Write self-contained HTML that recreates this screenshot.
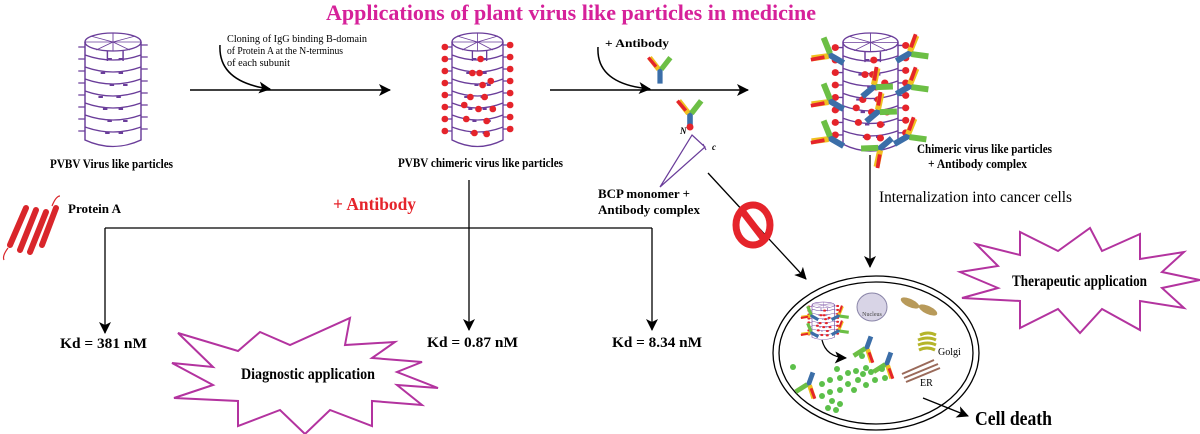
<!DOCTYPE html>
<html><head><meta charset="utf-8"><style>
html,body{margin:0;padding:0;background:#fff;width:1200px;height:434px;overflow:hidden}
svg text{font-family:"Liberation Serif",serif}
</style></head><body>
<svg width="1200" height="434" viewBox="0 0 1200 434" xmlns="http://www.w3.org/2000/svg">
<defs>
<marker id="ah" markerWidth="12" markerHeight="12" refX="11" refY="6" orient="auto" markerUnits="userSpaceOnUse">
<path d="M0,0 L12,6 L0,12 L3,6 Z" fill="#000"/></marker>
<g id="cyl" fill="none" stroke="#6a3d9a" stroke-width="1.3">
<ellipse cx="25" cy="9" rx="25" ry="9"/>
<path d="M0,9 V107 Q25,120 50,107 V9"/>
<path d="M25,9 L25,0 M25,9 L45,3 M25,9 L50,9 M25,9 L40,17 M25,9 L10,17 M25,9 L0,9 M25,9 L5,3 M25,9 L25,18" stroke-width="0.8"/>
<path d="M0,22 Q25,32 50,22 M0,34 Q25,44 50,34 M0,46 Q25,56 50,46 M0,58 Q25,68 50,58 M0,70 Q25,80 50,70 M0,82 Q25,92 50,82 M0,94 Q25,104 50,94"/>
<path d="M20,18 V28 M34,18 V28"/>
<path d="M-6,14 H0 M-6,26 H0 M-6,38 H0 M-6,50 H0 M-6,62 H0 M-6,74 H0 M-6,86 H0 M-6,98 H0 M50,12 H56 M50,24 H56 M50,36 H56 M50,48 H56 M50,60 H56 M50,72 H56 M50,84 H56 M50,96 H56"/>
<path d="M20,26 h4 M30,26 h4 M14,40 h4 M30,40 h4 M22,52 h4 M34,52 h4 M12,64 h4 M28,64 h4 M16,76 h4 M30,76 h4 M20,88 h4 M34,88 h4 M18,100 h4 M30,100 h4" stroke-width="2"/>
</g>
<g id="dots" fill="#e5242b">
<circle cx="-7" cy="14" r="3.3"/><circle cx="-7" cy="26" r="3.3"/><circle cx="-7" cy="38" r="3.3"/><circle cx="-7" cy="50" r="3.3"/><circle cx="-7" cy="62" r="3.3"/><circle cx="-7" cy="74" r="3.3"/><circle cx="-7" cy="86" r="3.3"/><circle cx="-7" cy="98" r="3.3"/>
<circle cx="57" cy="12" r="3.3"/><circle cx="57" cy="24" r="3.3"/><circle cx="57" cy="36" r="3.3"/><circle cx="57" cy="48" r="3.3"/><circle cx="57" cy="60" r="3.3"/><circle cx="57" cy="72" r="3.3"/><circle cx="57" cy="84" r="3.3"/><circle cx="57" cy="96" r="3.3"/>
<circle cx="28" cy="26" r="3.3"/><circle cx="20" cy="40" r="3.3"/><circle cx="27" cy="40" r="3.3"/><circle cx="30" cy="52" r="3.3"/><circle cx="38" cy="48" r="3.3"/><circle cx="18" cy="64" r="3.3"/><circle cx="32" cy="64" r="3.3"/><circle cx="12" cy="72" r="3.3"/><circle cx="26" cy="76" r="3.3"/><circle cx="40" cy="76" r="3.3"/><circle cx="14" cy="86" r="3.3"/><circle cx="34" cy="88" r="3.3"/><circle cx="22" cy="100" r="3.3"/><circle cx="34" cy="101" r="3.3"/>
</g>
<g id="ab">
<rect x="-2" y="0" width="4" height="12" fill="#3b6ea8"/>
<path d="M-1,1 L-8,-8" stroke="#f0c020" stroke-width="4"/>
<path d="M-3,-1 L-9,-8" stroke="#e5242b" stroke-width="2.5"/>
<path d="M1,1 L8,-8" stroke="#6cbf45" stroke-width="4"/>
</g>
</defs>

<text x="326" y="20" font-size="22" font-weight="bold" fill="#d6219a" textLength="490" lengthAdjust="spacingAndGlyphs">Applications of plant virus like particles in medicine</text>

<!-- cylinder 1 -->
<use href="#cyl" transform="translate(85,33) scale(1.12,1)"/>
<text x="50" y="168" font-size="13" font-weight="bold" textLength="123" lengthAdjust="spacingAndGlyphs">PVBV Virus like particles</text>

<!-- arrow 1 -->
<line x1="190" y1="90" x2="390" y2="90" stroke="#000" stroke-width="1.5" marker-end="url(#ah)"/>
<path d="M220,45 Q218,82 270,89" fill="none" stroke="#000" stroke-width="1.5" marker-end="url(#ah)"/>
<text font-size="11" x="227" y="42" textLength="140" lengthAdjust="spacingAndGlyphs">Cloning of IgG binding B-domain</text>
<text font-size="11" x="227" y="54" textLength="116" lengthAdjust="spacingAndGlyphs">of Protein A at the N-terminus</text>
<text font-size="11" x="227" y="66" textLength="63" lengthAdjust="spacingAndGlyphs">of each subunit</text>

<!-- cylinder 2 -->
<g transform="translate(452,33) scale(1.02,1)"><use href="#cyl"/><use href="#dots"/></g>
<text x="398" y="167" font-size="13" font-weight="bold" textLength="165" lengthAdjust="spacingAndGlyphs">PVBV chimeric virus like particles</text>

<!-- arrow 2 -->
<line x1="550" y1="90" x2="748" y2="90" stroke="#000" stroke-width="1.5" marker-end="url(#ah)"/>
<path d="M598,47 Q596,84 650,89" fill="none" stroke="#000" stroke-width="1.5" marker-end="url(#ah)"/>
<text x="605" y="47" font-size="12" font-weight="bold" textLength="64" lengthAdjust="spacingAndGlyphs">+ Antibody</text>
<use href="#ab" transform="translate(660,68) scale(1.3)"/>

<!-- cylinder 3 -->
<g transform="translate(843,33) scale(1.1,1.04)"><use href="#cyl"/><use href="#dots"/></g>
<use href="#ab" transform="translate(828,54) rotate(-60) scale(1.5)"/>
<use href="#ab" transform="translate(912,52) rotate(60) scale(1.5)"/>
<use href="#ab" transform="translate(828,100) rotate(-60) scale(1.5)"/>
<use href="#ab" transform="translate(912,85) rotate(60) scale(1.5)"/>
<use href="#ab" transform="translate(828,137) rotate(-60) scale(1.5)"/>
<use href="#ab" transform="translate(910,135) rotate(60) scale(1.5)"/>
<use href="#ab" transform="translate(876,85) rotate(50) scale(1.5)"/>
<use href="#ab" transform="translate(880,110) rotate(50) scale(1.5)"/>
<use href="#ab" transform="translate(878,150) rotate(-130) scale(1.5)"/>
<text x="917" y="153" font-size="13" font-weight="bold" textLength="135" lengthAdjust="spacingAndGlyphs">Chimeric virus like particles</text>
<text x="928" y="168" font-size="13" font-weight="bold" textLength="99" lengthAdjust="spacingAndGlyphs">+  Antibody complex</text>

<line x1="870" y1="155" x2="870" y2="267" stroke="#000" stroke-width="1.3" marker-end="url(#ah)"/>
<text x="879" y="202" font-size="16" textLength="193" lengthAdjust="spacingAndGlyphs">Internalization into cancer cells</text>

<!-- BCP monomer -->
<use href="#ab" transform="translate(690,112) scale(1.4)"/>
<circle cx="690" cy="127" r="3.5" fill="#e5242b"/>
<text x="680" y="134" font-size="9" font-style="italic" font-family="Liberation Sans" font-weight="bold">N</text>
<text x="712" y="150" font-size="9" font-style="italic" font-family="Liberation Sans" font-weight="bold">c</text>
<path d="M692,135 L705,147 L660,187 Z M703,144 L706,150" fill="none" stroke="#6a3d9a" stroke-width="1.2"/>
<text x="598" y="198" font-size="13" font-weight="bold" textLength="92" lengthAdjust="spacingAndGlyphs">BCP monomer +</text>
<text x="598" y="214" font-size="13" font-weight="bold" textLength="102" lengthAdjust="spacingAndGlyphs">Antibody complex</text>

<line x1="708" y1="173" x2="806" y2="279" stroke="#000" stroke-width="1.3" marker-end="url(#ah)"/>
<ellipse cx="753" cy="225" rx="17" ry="20" fill="none" stroke="#e5242b" stroke-width="7"/>
<line x1="743" y1="212" x2="763" y2="238" stroke="#e5242b" stroke-width="7"/>

<!-- cell -->
<ellipse cx="876" cy="353" rx="103" ry="77" fill="none" stroke="#000" stroke-width="1.3"/>
<ellipse cx="876" cy="353" rx="97" ry="71" fill="none" stroke="#000" stroke-width="1.3"/>
<g transform="translate(812,302) scale(0.45,0.33)"><use href="#cyl"/><use href="#dots"/></g>
<use href="#ab" transform="translate(810,315) rotate(-60) scale(0.8)"/>
<use href="#ab" transform="translate(840,315) rotate(60) scale(0.8)"/>
<use href="#ab" transform="translate(810,332) rotate(-60) scale(0.8)"/>
<use href="#ab" transform="translate(840,330) rotate(60) scale(0.8)"/>
<ellipse cx="872" cy="307" rx="15" ry="14" fill="#d8d4e6" stroke="#8a85a8"/>
<text x="872" y="316" font-size="6" text-anchor="middle" font-family="Liberation Sans" fill="#444">Nucleus</text>
<ellipse cx="910" cy="303" rx="10" ry="4" fill="#b89a5a" transform="rotate(25 910 303)"/>
<ellipse cx="928" cy="310" rx="10" ry="4" fill="#b89a5a" transform="rotate(25 928 310)"/>
<path d="M920,335 q8,-4 16,0 M918,340 q10,-4 18,0 M918,345 q10,-4 18,0 M919,350 q8,-4 16,0" stroke="#b5b52a" stroke-width="3" fill="none"/>
<text x="938" y="355" font-size="10" font-family="Liberation Sans">Golgi</text>
<path d="M904,378 L938,364 M906,382 L940,368 M902,374 L934,360" stroke="#9a6a5a" stroke-width="2"/>
<text x="920" y="386" font-size="10" font-family="Liberation Sans">ER</text>
<path d="M822,340 Q826,357 846,358" fill="none" stroke="#000" stroke-width="1.3" marker-end="url(#ah)"/>
<use href="#ab" transform="translate(866,350) rotate(200) scale(1.2)"/>
<use href="#ab" transform="translate(886,366) rotate(200) scale(1.2)"/>
<use href="#ab" transform="translate(808,386) rotate(200) scale(1.2)"/>
<g fill="#5cc04a">
<circle cx="793" cy="367" r="3"/><circle cx="862" cy="356" r="3"/><circle cx="866" cy="368" r="3"/><circle cx="885" cy="378" r="3"/>
<circle cx="837" cy="369" r="3"/><circle cx="840" cy="378" r="3"/><circle cx="848" cy="373" r="3"/><circle cx="856" cy="371" r="3"/><circle cx="863" cy="374" r="3"/><circle cx="871" cy="372" r="3"/><circle cx="875" cy="380" r="3"/><circle cx="882" cy="369" r="3"/><circle cx="858" cy="380" r="3"/><circle cx="866" cy="385" r="3"/><circle cx="848" cy="384" r="3"/><circle cx="840" cy="390" r="3"/><circle cx="830" cy="392" r="3"/><circle cx="822" cy="384" r="3"/><circle cx="822" cy="396" r="3"/><circle cx="832" cy="401" r="3"/><circle cx="840" cy="404" r="3"/><circle cx="836" cy="410" r="3"/><circle cx="828" cy="408" r="3"/><circle cx="854" cy="390" r="3"/><circle cx="830" cy="380" r="3"/>
</g>
<line x1="923" y1="398" x2="968" y2="416" stroke="#000" stroke-width="1.3" marker-end="url(#ah)"/>
<text x="975" y="425" font-size="20" font-weight="bold" textLength="77" lengthAdjust="spacingAndGlyphs">Cell death</text>

<!-- therapeutic star -->
<polygon points="1200,280 1162,288 1184,308 1140,301 1140,330 1102,309 1080,333 1058,309 1020,328 1020,301 962,298 998,288 960,272 998,266 976,244 1020,255 1020,232 1058,251 1090,228 1102,251 1140,234 1140,259 1184,252 1162,272" fill="none" stroke="#b3339f" stroke-width="2"/>
<text x="1012" y="286" font-size="16" font-weight="bold" textLength="135" lengthAdjust="spacingAndGlyphs">Therapeutic application</text>

<!-- protein A -->
<g stroke="#d9262b" stroke-width="6" fill="none" stroke-linecap="round">
<path d="M10,245 L26,208 M20,250 L36,210 M30,252 L46,212 M42,245 L56,208"/>
</g>
<path d="M8,248 q-6,8 -4,12 M52,206 q4,-10 8,-10" stroke="#d9262b" stroke-width="1.2" fill="none"/>
<text x="68" y="213" font-size="13" font-weight="bold" textLength="53" lengthAdjust="spacingAndGlyphs">Protein A</text>

<text x="333" y="210" font-size="18" font-weight="bold" fill="#e5242b" textLength="83" lengthAdjust="spacingAndGlyphs">+ Antibody</text>

<!-- tree -->
<line x1="469" y1="180" x2="469" y2="330" stroke="#000" stroke-width="1.3" marker-end="url(#ah)"/>
<line x1="105" y1="228" x2="652" y2="228" stroke="#000" stroke-width="1.3"/>
<line x1="105" y1="228" x2="105" y2="333" stroke="#000" stroke-width="1.3" marker-end="url(#ah)"/>
<line x1="652" y1="228" x2="652" y2="330" stroke="#000" stroke-width="1.3" marker-end="url(#ah)"/>
<text x="60" y="348" font-size="15" font-weight="bold" textLength="87" lengthAdjust="spacingAndGlyphs">Kd = 381 nM</text>
<text x="427" y="347" font-size="15" font-weight="bold" textLength="91" lengthAdjust="spacingAndGlyphs">Kd = 0.87 nM</text>
<text x="612" y="347" font-size="15" font-weight="bold" textLength="90" lengthAdjust="spacingAndGlyphs">Kd = 8.34 nM</text>

<!-- diagnostic star -->
<polygon points="438,388 397,385 422,405 372,401 372,426 330,410 305,434 280,410 238,426 238,401 174,398 213,385 172,363 213,367 178,333 238,351 260,332 290,345 350,318 345,345 395,342 372,358 422,362 397,372" fill="none" stroke="#b3339f" stroke-width="2"/>
<text x="241" y="379" font-size="16" font-weight="bold" textLength="134" lengthAdjust="spacingAndGlyphs">Diagnostic application</text>
</svg>
</body></html>
